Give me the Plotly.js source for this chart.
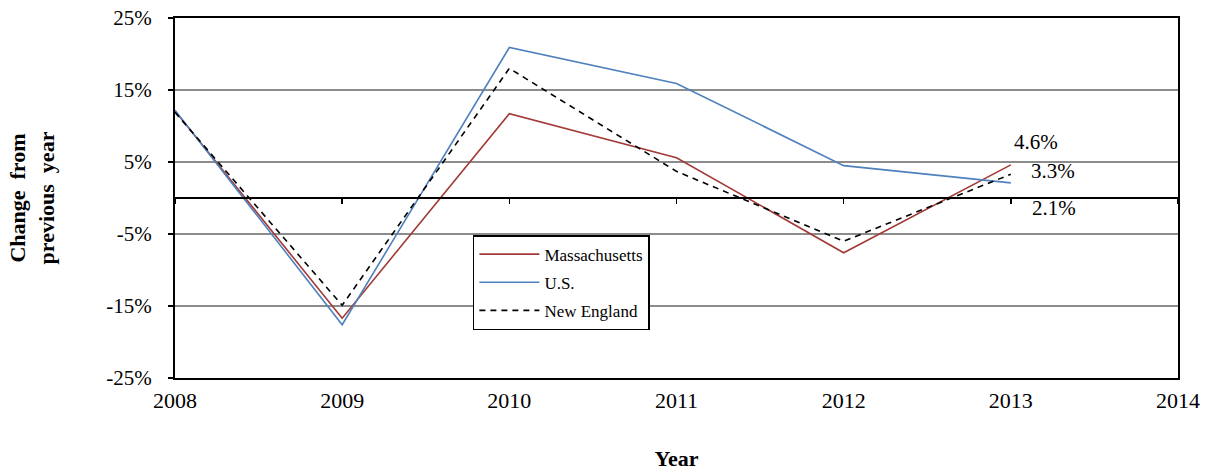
<!DOCTYPE html>
<html>
<head>
<meta charset="utf-8">
<script src="https://cdn.plot.ly/plotly-3.0.1.min.js"></script>
<style>html,body{margin:0;padding:0;background:#fff;}#chart{width:1214px;height:472px;}</style>
</head>
<body>
<div id="chart"></div>
<script>
const years = [2008, 2009, 2010, 2011, 2012, 2013];
const massachusetts = [12.1, -16.7, 11.7, 5.6, -7.6, 4.6];
const us = [12.2, -17.6, 20.9, 15.9, 4.5, 2.1];
const newEngland = [11.9, -14.9, 18.0, 3.7, -6.0, 3.3];
const yTickVals = [-25, -15, -5, 5, 15, 25];
const yTickText = ['-25%', '-15%', '-5%', '5%', '15%', '25%'];
const xTickVals = [2008, 2009, 2010, 2011, 2012, 2013, 2014];
const endLabels = ['4.6%', '3.3%', '2.1%'];

const serif = 'Liberation Serif';

const traces = [
  {x: years, y: massachusetts, name: 'Massachusetts', mode: 'lines', legendgroup: 'a',
   line: {color: '#a23b37', width: 1.6}},
  {x: years, y: us, name: 'U.S.', mode: 'lines', legendgroup: 'b',
   line: {color: '#4f81bd', width: 1.6}},
  {x: years, y: newEngland, name: 'New England', mode: 'lines', legendgroup: 'c',
   line: {color: '#000000', width: 1.6, dash: '6px,5px'}},
  {x: [2008, 2014], y: [0, 0], xaxis: 'x2', mode: 'lines', showlegend: false, hoverinfo: 'skip',
   line: {color: 'rgba(0,0,0,0)', width: 0}}
];

const layout = {
  width: 1214, height: 472,
  margin: {l: 175, r: 36, t: 18, b: 94, autoexpand: false},
  paper_bgcolor: '#fff', plot_bgcolor: '#fff',
  font: {family: serif, size: 21, color: '#000'},
  showlegend: true,
  legend: {
    x: 0.297, y: 0.397, xanchor: 'left', yanchor: 'top',
    bordercolor: '#000', borderwidth: 1.5, bgcolor: '#fff',
    font: {family: serif, size: 17, color: '#000'},
    traceorder: 'grouped', tracegroupgap: 3,
    itemwidth: 60
  },
  xaxis: {
    range: [2008, 2014], tickvals: xTickVals, ticks: '',
    showline: true, mirror: true, linecolor: '#000', linewidth: 2,
    showgrid: false, zeroline: false,
    tickfont: {family: serif, size: 22}, ticklabelstandoff: 2,
    title: {text: '<b>Year</b>', font: {family: serif, size: 22}, standoff: 38}
  },
  xaxis2: {
    range: [2008, 2014], tickvals: xTickVals, overlaying: 'x', anchor: 'free', position: 0.5,
    ticks: 'outside', ticklen: 5, tickwidth: 1.5, tickcolor: '#000',
    showticklabels: false, showline: true, linecolor: '#000', linewidth: 2,
    showgrid: false, zeroline: false
  },
  yaxis: {
    range: [-25, 25], tickvals: yTickVals, ticktext: yTickText,
    ticks: 'outside', ticklen: 5, tickcolor: '#000', tickwidth: 1.5,
    showline: true, mirror: true, linecolor: '#000', linewidth: 2,
    showgrid: true, gridcolor: '#8c8c8c', gridwidth: 1.5, zeroline: false,
    tickfont: {family: serif, size: 21}, ticklabelstandoff: 12, automargin: true,
    title: {text: '<b>Change  from<br>previous  year</b>', font: {family: serif, size: 22}, standoff: 46}
  },
  annotations: [
    {x: 2013.15, y: 7.8, xref: 'x', yref: 'y', text: endLabels[0], showarrow: false, font: {family: serif, size: 21}},
    {x: 2013.25, y: 3.75, xref: 'x', yref: 'y', text: endLabels[1], showarrow: false, font: {family: serif, size: 21}},
    {x: 2013.26, y: -1.4, xref: 'x', yref: 'y', text: endLabels[2], showarrow: false, font: {family: serif, size: 21}}
  ]
};

Plotly.newPlot('chart', traces, layout, {displayModeBar: false, staticPlot: true});
</script>
</body>
</html>
